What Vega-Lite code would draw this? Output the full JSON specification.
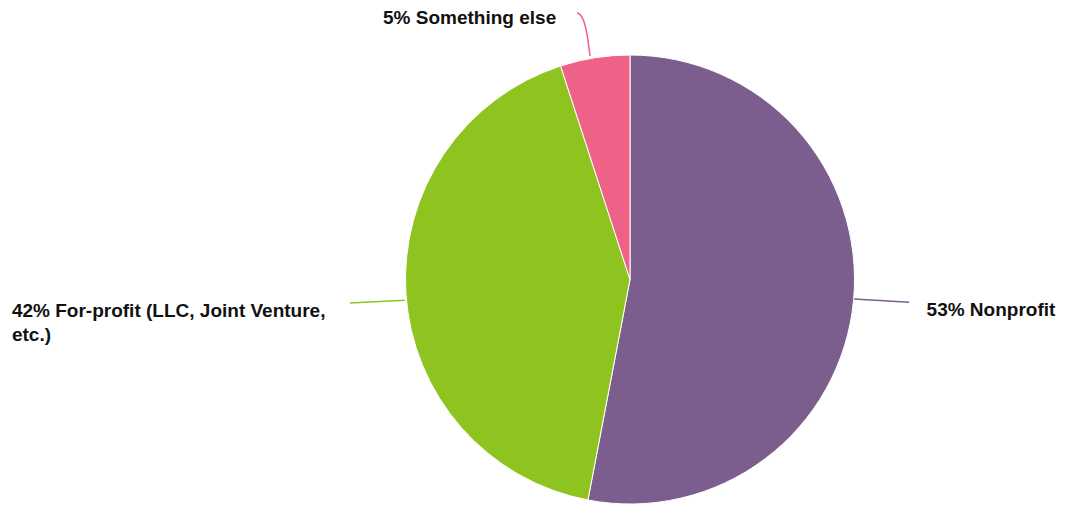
{
  "$schema": "https://vega.github.io/schema/vega-lite/v6.json",
  "width": 449,
  "height": 449,
  "autosize": "none",
  "padding": {"left": 405.5, "top": 55, "right": 214.5, "bottom": 2},
  "background": "white",
  "config": {"view": {"stroke": null}},
  "datasets": {
    "slices": [
      {"category": "Nonprofit", "value": 53, "rank": 1},
      {"category": "For-profit", "value": 42, "rank": 2},
      {"category": "Something else", "value": 5, "rank": 3}
    ],
    "leaders": [
      {"category": "Nonprofit", "i": 1, "x": 0.998, "y": -0.087},
      {"category": "Nonprofit", "i": 2, "x": 1.243, "y": -0.101},
      {"category": "For-profit", "i": 1, "x": -1.248, "y": -0.105},
      {"category": "For-profit", "i": 2, "x": -1.004, "y": -0.092},
      {"category": "Something else", "i": 1, "x": -0.236, "y": 1.188},
      {"category": "Something else", "i": 2, "x": -0.218, "y": 1.175},
      {"category": "Something else", "i": 3, "x": -0.205, "y": 1.148},
      {"category": "Something else", "i": 4, "x": -0.191, "y": 1.090},
      {"category": "Something else", "i": 5, "x": -0.178, "y": 0.996}
    ],
    "labels": [
      {"label": "53% Nonprofit", "x": 1.321, "y": -0.161},
      {"label": "42% For-profit (LLC, Joint Venture,\netc.)", "x": -2.753, "y": -0.165},
      {"label": "5% Something else", "x": -1.1, "y": 1.137}
    ]
  },
  "layer": [
    {
      "data": {"name": "slices"},
      "mark": {"type": "arc", "stroke": "white", "strokeWidth": 1},
      "encoding": {
        "theta": {"field": "value", "type": "quantitative", "stack": true},
        "order": {"field": "rank", "type": "quantitative"},
        "color": {
          "field": "category",
          "type": "nominal",
          "scale": {"domain": ["Nonprofit", "For-profit", "Something else"], "range": ["#7b5d8e", "#8fc320", "#ed6286"]},
          "legend": null
        }
      }
    },
    {
      "data": {"name": "leaders"},
      "mark": {"type": "line", "strokeWidth": 1.5, "clip": false, "interpolate": "monotone"},
      "encoding": {
        "x": {"field": "x", "type": "quantitative", "scale": {"domain": [-1, 1], "nice": false, "zero": false}, "axis": null},
        "y": {"field": "y", "type": "quantitative", "scale": {"domain": [-1, 1], "nice": false, "zero": false}, "axis": null},
        "color": {"field": "category", "type": "nominal", "legend": null},
        "order": {"field": "i", "type": "quantitative"}
      }
    },
    {
      "data": {"name": "labels"},
      "mark": {"type": "text", "align": "left", "baseline": "alphabetic", "font": "Liberation Sans", "fontWeight": "bold", "fontSize": 19, "lineBreak": "\n", "lineHeight": 24, "color": "#111111", "clip": false},
      "encoding": {
        "x": {"field": "x", "type": "quantitative"},
        "y": {"field": "y", "type": "quantitative"},
        "text": {"field": "label"}
      }
    }
  ]
}
